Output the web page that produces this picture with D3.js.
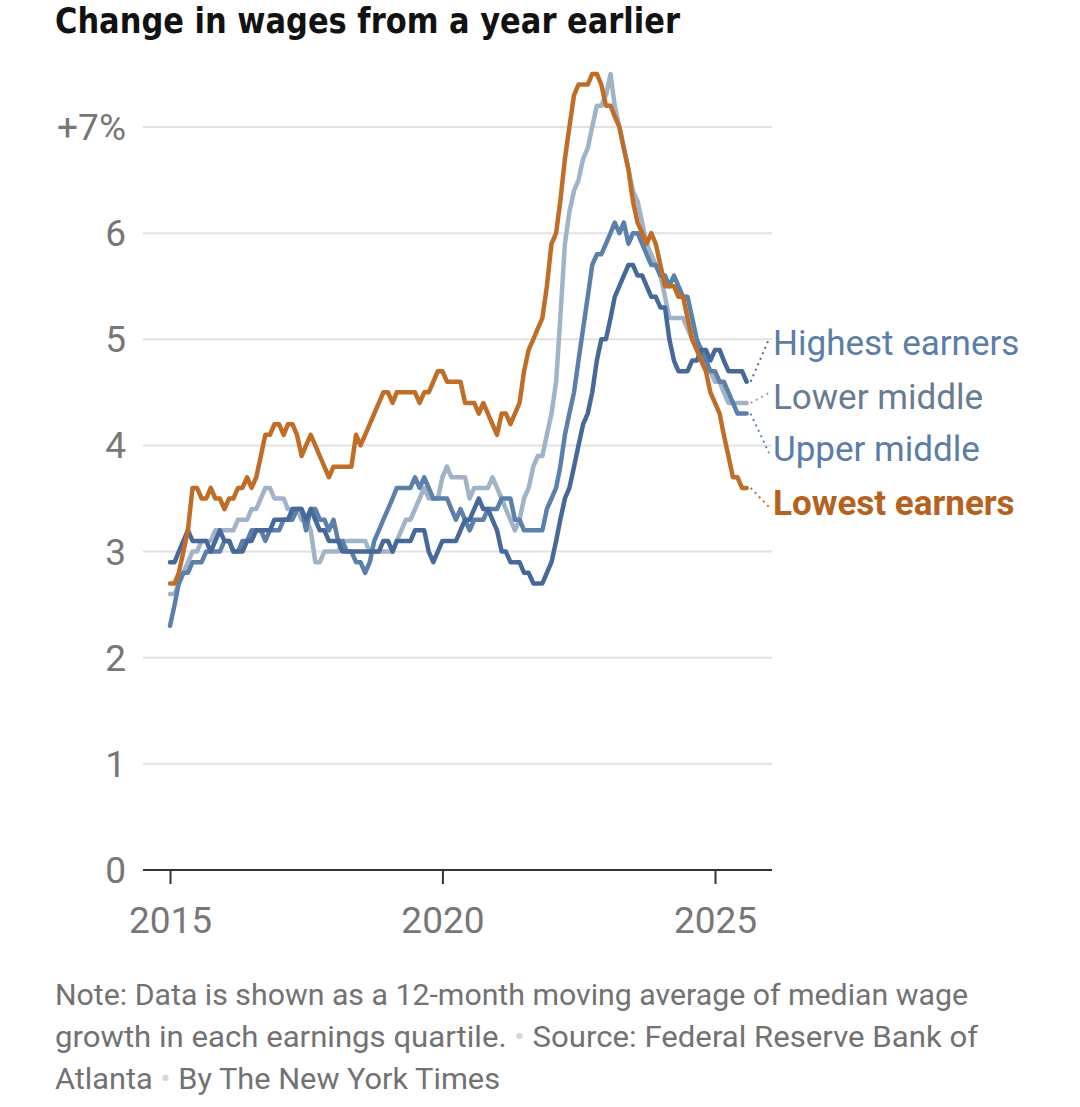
<!DOCTYPE html>
<html>
<head>
<meta charset="utf-8">
<script src="https://cdn.jsdelivr.net/npm/d3@7"></script>
<style>
  body { margin: 0; background: #fff; }
  svg { display: block; }
</style>
</head>
<body>
<script>
var w = 1080;
var h = 1107;

// monthly values, Jan 2015 .. Aug 2025
var highest = [
  2.9,2.9,3.0,3.1,3.2,3.1,3.1,3.1,3.1,3.0,3.1,3.2,
  3.1,3.1,3.0,3.0,3.0,3.1,3.1,3.2,3.2,3.2,3.2,3.3,
  3.3,3.3,3.3,3.4,3.4,3.4,3.3,3.4,3.3,3.2,3.2,3.1,
  3.1,3.1,3.0,3.0,3.0,3.0,3.0,3.0,3.0,3.0,3.0,3.1,
  3.1,3.0,3.1,3.1,3.1,3.1,3.2,3.2,3.2,3.0,2.9,3.0,
  3.1,3.1,3.1,3.1,3.2,3.3,3.3,3.4,3.5,3.4,3.4,3.3,
  3.2,3.0,3.0,2.9,2.9,2.9,2.8,2.8,2.7,2.7,2.7,2.8,
  2.9,3.1,3.3,3.5,3.6,3.8,4.0,4.2,4.3,4.5,4.8,5.0,
  5.0,5.2,5.4,5.5,5.6,5.7,5.7,5.6,5.6,5.5,5.4,5.4,
  5.3,5.3,5.0,4.8,4.7,4.7,4.7,4.8,4.8,4.9,4.9,4.8,
  4.9,4.9,4.8,4.7,4.7,4.7,4.7,4.6
];
var lowerMiddle = [
  2.6,2.6,2.7,2.8,2.9,3.0,3.0,3.1,3.1,3.1,3.2,3.2,
  3.2,3.2,3.2,3.3,3.3,3.3,3.4,3.4,3.5,3.6,3.6,3.5,
  3.5,3.5,3.4,3.4,3.4,3.3,3.3,3.2,2.9,2.9,3.0,3.0,
  3.0,3.0,3.1,3.1,3.1,3.1,3.1,3.1,3.0,3.0,3.0,3.0,
  3.0,3.0,3.1,3.2,3.3,3.3,3.4,3.5,3.6,3.5,3.5,3.5,
  3.7,3.8,3.7,3.7,3.7,3.7,3.5,3.6,3.6,3.6,3.6,3.7,
  3.6,3.5,3.4,3.3,3.2,3.3,3.5,3.6,3.8,3.9,3.9,4.1,
  4.3,4.6,5.2,5.9,6.2,6.4,6.5,6.7,6.8,7.0,7.2,7.2,
  7.3,7.5,7.2,7.0,6.8,6.6,6.4,6.3,6.1,5.9,5.8,5.7,
  5.6,5.4,5.2,5.2,5.2,5.2,5.1,5.0,4.9,4.8,4.7,4.7,
  4.6,4.6,4.5,4.4,4.4,4.4,4.4,4.4
];
var upperMiddle = [
  2.3,2.5,2.7,2.8,2.8,2.9,2.9,2.9,3.0,3.0,3.0,3.0,
  3.1,3.1,3.0,3.0,3.1,3.1,3.2,3.2,3.2,3.1,3.2,3.2,
  3.2,3.3,3.3,3.3,3.4,3.4,3.2,3.4,3.4,3.3,3.3,3.2,
  3.3,3.1,3.1,3.0,3.0,2.9,2.9,2.8,2.9,3.1,3.2,3.3,
  3.4,3.5,3.6,3.6,3.6,3.6,3.7,3.6,3.7,3.6,3.5,3.5,
  3.5,3.5,3.4,3.3,3.4,3.3,3.2,3.3,3.3,3.3,3.4,3.4,
  3.4,3.5,3.5,3.5,3.3,3.3,3.2,3.2,3.2,3.2,3.2,3.4,
  3.5,3.6,3.8,4.1,4.3,4.5,4.8,5.1,5.4,5.7,5.8,5.8,
  5.9,6.0,6.1,6.0,6.1,5.9,6.0,6.0,5.9,5.8,5.7,5.7,
  5.6,5.6,5.5,5.6,5.5,5.4,5.4,5.2,5.0,4.9,4.8,4.7,
  4.7,4.6,4.6,4.5,4.4,4.3,4.3,4.3
];
var lowest = [
  2.7,2.7,2.8,3.0,3.2,3.6,3.6,3.5,3.5,3.6,3.5,3.5,
  3.4,3.5,3.5,3.6,3.6,3.7,3.6,3.7,3.9,4.1,4.1,4.2,
  4.2,4.1,4.2,4.2,4.1,3.9,4.0,4.1,4.0,3.9,3.8,3.7,
  3.8,3.8,3.8,3.8,3.8,4.1,4.0,4.1,4.2,4.3,4.4,4.5,
  4.5,4.4,4.5,4.5,4.5,4.5,4.5,4.4,4.5,4.5,4.6,4.7,
  4.7,4.6,4.6,4.6,4.6,4.4,4.4,4.4,4.3,4.4,4.3,4.2,
  4.1,4.3,4.3,4.2,4.3,4.4,4.7,4.9,5.0,5.1,5.2,5.5,
  5.9,6.0,6.3,6.7,7.0,7.3,7.4,7.4,7.4,7.5,7.5,7.4,
  7.2,7.2,7.1,7.0,6.8,6.6,6.3,6.1,6.0,5.9,6.0,5.9,
  5.7,5.5,5.5,5.5,5.4,5.4,5.2,5.0,4.9,4.8,4.7,4.5,
  4.4,4.3,4.1,3.9,3.7,3.7,3.6,3.6
];

var yTicks = [0, 1, 2, 3, 4, 5, 6, 7];
var xTickYears = [2015, 2020, 2025];

var months = d3.timeMonth.range(new Date(2015, 0, 1), new Date(2025, 8, 1));

var series = [
  { name: "Lower middle", values: lowerMiddle, color: "#a0b3c7", lead: "#8ea2b7", text: "#687c91", labelY: 397, bold: false },
  { name: "Upper middle", values: upperMiddle, color: "#5b80aa", lead: "#5b80aa", text: "#5a7ea7", labelY: 449, bold: false },
  { name: "Highest earners", values: highest, color: "#46699a", lead: "#46699a", text: "#5a7ea7", labelY: 343, bold: false },
  { name: "Lowest earners", values: lowest, color: "#c06e27", lead: "#c06e27", text: "#b4621e", labelY: 503, bold: true }
];

var x = d3.scaleTime()
  .domain([new Date(2015, 0, 1), new Date(2025, 0, 1)])
  .range([170, 715]);

var y = d3.scaleLinear()
  .domain([0, 7])
  .range([870, 127]);

var svg = d3.select("body").append("svg").attr("width", w).attr("height", h);

var narrow = "'Liberation Sans Narrow', 'DejaVu Sans Condensed', sans-serif";
var sans = "Roboto, 'Liberation Sans', sans-serif";

// title
svg.append("text")
  .attr("x", 55)
  .attr("y", 33)
  .attr("font-family", narrow)
  .attr("font-weight", "bold")
  .attr("font-size", "36px")
  .attr("fill", "#121212")
  .attr("textLength", 625)
  .attr("lengthAdjust", "spacingAndGlyphs")
  .text("Change in wages from a year earlier");

//gridlines
svg.selectAll(".grid")
  .data(yTicks.filter(d => d > 0))
  .enter()
  .append("line")
  .attr("x1", 143)
  .attr("x2", 772)
  .attr("y1", d => y(d))
  .attr("y2", d => y(d))
  .attr("stroke", "#e2e2e2")
  .attr("stroke-width", 2);

// y labels
svg.selectAll(".ylab")
  .data(yTicks)
  .enter()
  .append("text")
  .attr("x", 126)
  .attr("y", d => y(d) + 13)
  .attr("text-anchor", "end")
  .attr("font-family", sans)
  .attr("font-size", "37px")
  .attr("fill", "#777")
  .text(d => d === 7 ? "+7%" : d);

// x axis
var xAxis = d3.axisBottom(x)
  .tickValues(xTickYears.map(d => new Date(d, 0, 1)))
  .tickSize(14)
  .tickPadding(23)
  .tickFormat(d3.timeFormat("%Y"));

var gx = svg.append("g")
  .attr("transform", "translate(0," + y(0) + ")")
  .call(xAxis);

gx.select(".domain").remove();
gx.selectAll(".tick line").attr("stroke", "#333").attr("stroke-width", 2);
gx.selectAll(".tick text")
  .attr("font-family", sans)
  .attr("font-size", "37px")
  .attr("fill", "#777");

svg.append("line")
  .attr("x1", 143)
  .attr("x2", 772)
  .attr("y1", y(0))
  .attr("y2", y(0))
  .attr("stroke", "#333")
  .attr("stroke-width", 2);

// lines
var line = d3.line()
  .x((d, i) => x(months[i]))
  .y(d => y(d));

svg.selectAll(".series")
  .data(series)
  .enter()
  .append("path")
  .attr("d", d => line(d.values))
  .attr("fill", "none")
  .attr("stroke", d => d.color)
  .attr("stroke-width", 4.5)
  .attr("stroke-linejoin", "round")
  .attr("stroke-linecap", "round");

// labels with dotted leaders
var last = months.length - 1;
svg.selectAll(".leader")
  .data(series)
  .enter()
  .append("line")
  .attr("x1", d => x(months[last]) + 4)
  .attr("y1", d => y(d.values[last]))
  .attr("x2", 769)
  .attr("y2", d => d.labelY + (d.labelY < y(d.values[last]) ? -4 : 4))
  .attr("stroke", d => d.lead)
  .attr("stroke-width", 2)
  .attr("stroke-dasharray", "2,4");

svg.selectAll(".label")
  .data(series)
  .enter()
  .append("text")
  .attr("x", 773)
  .attr("y", d => d.labelY + 12)
  .attr("font-family", sans)
  .attr("font-size", "35px")
  .attr("font-weight", d => d.bold ? "bold" : "normal")
  .attr("fill", d => d.text)
  .text(d => d.name);

// note
var noteLines = [
  { parts: ["Note: Data is shown as a 12-month moving average of median wage"], len: 913 },
  { parts: ["growth in each earnings quartile.", "Source: Federal Reserve Bank of"], len: 923 },
  { parts: ["Atlanta", "By The New York Times"], len: 445 }
];

noteLines.forEach((row, i) => {
  var t = svg.append("text")
    .attr("x", 55)
    .attr("y", 1005 + i * 42)
    .attr("font-family", sans)
    .attr("font-size", "29px")
    .attr("fill", "#727272")
    .attr("textLength", row.len)
    .attr("lengthAdjust", "spacingAndGlyphs");
  row.parts.forEach((p, j) => {
    if (j > 0) {
      t.append("tspan").attr("fill", "#d6d6d6").text("  \u2022  ");
    }
    t.append("tspan").text(p);
  });
});
</script>
</body>
</html>
